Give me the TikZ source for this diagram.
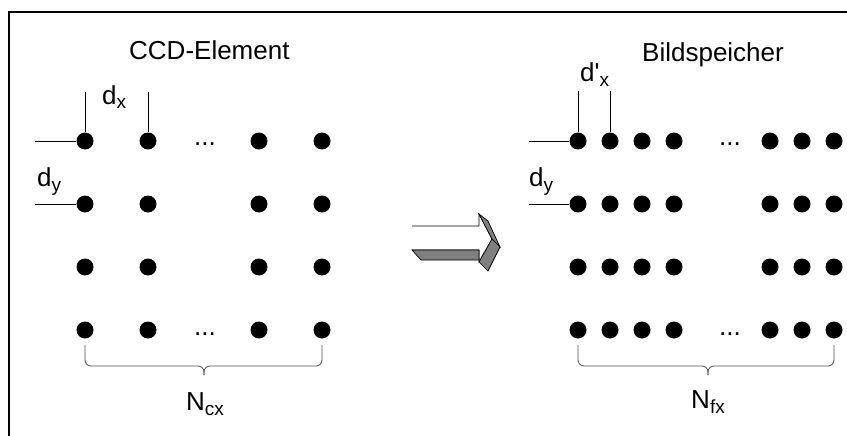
\documentclass[tikz,border=0pt]{standalone}
\usepackage{fontspec}
\setmainfont{Liberation Sans}
\usetikzlibrary{positioning,calc}
\newcommand\idx[1]{\raisebox{-5pt}{\fontsize{19}{19}\selectfont #1}}

\begin{document}
\begin{tikzpicture}[x=1pt, y=-1pt,
    dot/.style={circle, fill, inner sep=0, minimum size=17pt},
    lbl/.style={inner sep=0, anchor=base west, font=\fontsize{26}{30}\selectfont},
    sublbl/.style={lbl, anchor=base},
    tick/.style={line width=0.8pt},
    brc/.style={draw=black!70, line width=0.8pt, rounded corners=6pt},
    face/.style={draw, line width=0.7pt, fill=gray}
  ]
  \useasboundingbox (0,0) rectangle (847,436);
  \draw[line width=2pt] (9,437) -- (9,12) -- (848,12);

  % sensor grid
  \foreach \x [count=\i] in {85,148,259,322}
    \foreach \y [count=\j] in {141,204,267,330}
      \node[dot] (ccd-\i-\j) at (\x,\y) {};
  \node[lbl] (ccd-title) at (129,60) {CCD-Element};
  \node[sublbl] (ccd-dots1) at (205,146) {...};
  \node[sublbl] (ccd-dots4) at (205,335) {...};

  % pitch marks
  \coordinate[above=40pt of ccd-1-1] (ccd-vx1);
  \coordinate[above=40pt of ccd-2-1] (ccd-vx2);
  \coordinate[left=41pt of ccd-1-1] (ccd-hy1);
  \coordinate[left=41pt of ccd-1-2] (ccd-hy2);
  \draw[tick] (ccd-vx1) -- (ccd-1-1);
  \draw[tick] (ccd-vx2) -- (ccd-2-1);
  \draw[tick] (ccd-hy1) -- (ccd-1-1);
  \draw[tick] (ccd-hy2) -- (ccd-1-2);
  \node[lbl] (ccd-dx) at (102,104) {d\idx{x}};
  \node[lbl] (ccd-dy) at (37,186) {d\idx{y}};

  % brace under the sensor row
  \draw[brc] (85,345) -- (85,366) -- (204,366) -- (204,375);
  \draw[brc] (322,345) -- (322,366) -- (204,366) -- (204,375);
  \node[sublbl] (ccd-n) at (205,410) {N\idx{cx}};

  % block arrow
  \fill[white] (412,226) -- (479,226) -- (479,214) -- (492,239) -- (479,262) -- (479,250) -- (412,250) -- cycle;
  \draw[line width=0.7pt] (412,250) -- (479,250) -- (479,262) -- (492,239) -- (479,214) -- (479,226) -- (412,226);
  \draw[face] (479,214) -- (488,221) -- (500,247) -- (492,239) -- cycle;
  \draw[face] (492,239) -- (500,247) -- (488,271) -- (479,262) -- cycle;
  \draw[face] (412,250) -- (479,250) -- (479,260) -- (421,260) -- cycle;

  % frame buffer grid
  \foreach \x [count=\i] in {578,610,642,674,770,802,834}
    \foreach \y [count=\j] in {141,204,267,330}
      \node[dot] (buf-\i-\j) at (\x,\y) {};
  \node[lbl] (buf-title) at (642,62) {Bildspeicher};
  \node[sublbl] (buf-dots1) at (730,146) {...};
  \node[sublbl] (buf-dots4) at (730,335) {...};

  \coordinate[above=41pt of buf-1-1] (buf-vx1);
  \coordinate[above=41pt of buf-2-1] (buf-vx2);
  \coordinate[left=40pt of buf-1-1] (buf-hy1);
  \coordinate[left=40pt of buf-1-2] (buf-hy2);
  \draw[tick] (buf-vx1) -- (buf-1-1);
  \draw[tick] (buf-vx2) -- (buf-2-1);
  \draw[tick] (buf-hy1) -- (buf-1-1);
  \draw[tick] (buf-hy2) -- (buf-1-2);
  \node[lbl] (buf-dx) at (580,82) {d\textquotesingle\idx{x}};
  \node[lbl] (buf-dy) at (529,186) {d\idx{y}};

  \draw[brc] (578,345) -- (578,366) -- (708,366) -- (708,375);
  \draw[brc] (834,345) -- (834,366) -- (708,366) -- (708,375);
  \node[sublbl] (buf-n) at (708,408) {N\idx{fx}};
\end{tikzpicture}
\end{document}
